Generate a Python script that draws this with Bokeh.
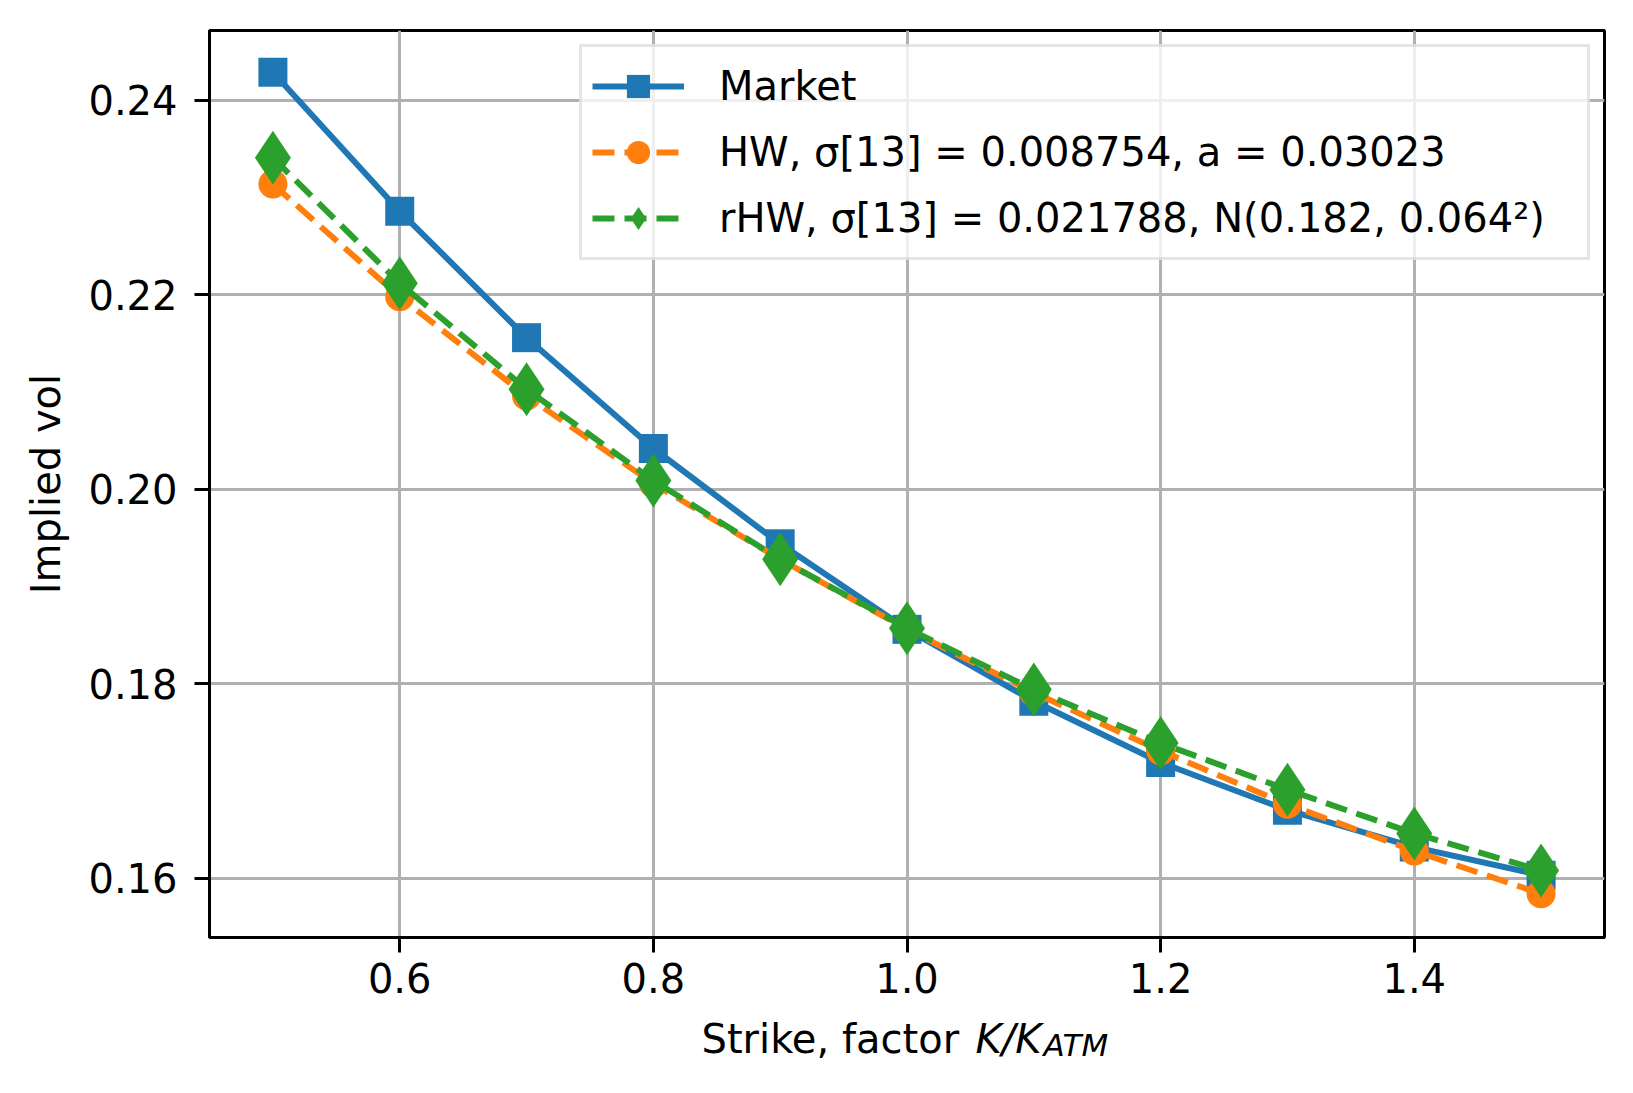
from bokeh.plotting import figure
from bokeh.layouts import column
from bokeh.models import Range1d, FixedTicker, NumeralTickFormatter, Legend, LegendItem
from bokeh.core.properties import value
from bokeh.embed import file_html
from bokeh.resources import INLINE

# ---- data ----
strike = [0.5, 0.6, 0.7, 0.8, 0.9, 1.0, 1.1, 1.2, 1.3, 1.4, 1.5]
market = [0.2429, 0.2286, 0.2156, 0.2042, 0.1944, 0.1856, 0.1782, 0.1719, 0.1670, 0.1632, 0.1603]
hw     = [0.2314, 0.2198, 0.2096, 0.2006, 0.1928, 0.1856, 0.1791, 0.1731, 0.1676, 0.1628, 0.1584]
rhw    = [0.2341, 0.2212, 0.2103, 0.2009, 0.1928, 0.1857, 0.1794, 0.1739, 0.1691, 0.1646, 0.1608]

x_ticks = [0.6, 0.8, 1.0, 1.2, 1.4]
y_ticks = [0.16, 0.18, 0.20, 0.22, 0.24]
series_labels = [
    "Market",
    "HW, σ[13] = 0.008754, a = 0.03023",
    "rHW, σ[13] = 0.021788, N(0.182, 0.064²)",
]
y_label = "Implied vol"
x_label_parts = ["Strike, factor", "K/K", "ATM"]

FONT = "DejaVu Sans"
FS = "40px"
C_BLUE, C_ORANGE, C_GREEN = "#1f77b4", "#ff7f0e", "#2ca02c"

W = 1617
H_MAIN = 1012
H_LAB = 65
FRAME_L, FRAME_R = 209, 1604   # page pixels of the plot frame edges

p = figure(width=W, height=H_MAIN, output_backend="svg", toolbar_location=None,
           x_range=Range1d(0.45, 1.55), y_range=Range1d(0.1539, 0.2472),
           min_border_left=FRAME_L, min_border_right=W - FRAME_R, min_border_top=30,
           min_border_bottom=H_MAIN - 937)
p.background_fill_color = "white"
p.border_fill_color = "white"
p.outline_line_color = "black"
p.outline_line_width = 3

# grid
p.xgrid.ticker = FixedTicker(ticks=x_ticks)
p.ygrid.ticker = FixedTicker(ticks=y_ticks)
p.grid.grid_line_color = "#b0b0b0"
p.grid.grid_line_width = 3

# axes
p.xaxis.ticker = FixedTicker(ticks=x_ticks)
p.yaxis.ticker = FixedTicker(ticks=y_ticks)
p.xaxis.formatter = NumeralTickFormatter(format="0.0")
p.yaxis.formatter = NumeralTickFormatter(format="0.00")
for ax in (p.xaxis, p.yaxis):
    ax.axis_line_color = "black"
    ax.axis_line_width = 3
    ax.major_tick_line_color = "black"
    ax.major_tick_line_width = 3
    ax.major_tick_in = 0
    ax.major_tick_out = 15
    ax.minor_tick_line_color = None
    ax.major_label_text_font = FONT
    ax.major_label_text_font_size = FS
    ax.major_label_text_color = "black"
p.xaxis.major_label_standoff = 10
p.yaxis.major_label_standoff = 17
p.yaxis.axis_label = y_label
p.yaxis.axis_label_text_font = FONT
p.yaxis.axis_label_text_font_size = FS
p.yaxis.axis_label_text_font_style = "normal"
p.yaxis.axis_label_text_color = "black"
p.yaxis.axis_label_standoff = 16

# series
l1 = p.line(strike, market, line_color=C_BLUE, line_width=6)
s1 = p.scatter(strike, market, marker="square", size=29, fill_color=C_BLUE, line_color=None)
l2 = p.line(strike, hw, line_color=C_ORANGE, line_width=6, line_dash="22 10")
s2 = p.scatter(strike, hw, marker="circle", size=29, fill_color=C_ORANGE, line_color=None)
l3 = p.line(strike, rhw, line_color=C_GREEN, line_width=6, line_dash="22 10")
s3 = p.scatter(strike, rhw, marker="diamond", size=54, fill_color=C_GREEN, line_color=None)

legend = Legend(items=[
    LegendItem(label=series_labels[0], renderers=[l1, s1]),
    LegendItem(label=series_labels[1], renderers=[l2, s2]),
    LegendItem(label=series_labels[2], renderers=[l3, s3]),
], location="top_right")
legend.label_text_font = FONT
legend.label_text_font_size = FS
legend.label_text_color = "black"
legend.glyph_width = 92
legend.glyph_height = 58
legend.label_standoff = 35
legend.label_width = 858
legend.spacing = 8
legend.padding = 10
legend.margin = 14
legend.border_line_color = "#cccccc"
legend.border_line_width = 3
legend.background_fill_color = "white"
legend.background_fill_alpha = 0.8
p.add_layout(legend)

# x-axis label strip (italic K/K with subscript ATM); x in page pixels, y from strip top
lab = figure(width=W, height=H_LAB, output_backend="svg", toolbar_location=None, title=None,
             x_range=Range1d(FRAME_L, FRAME_R), y_range=Range1d(H_LAB, 0),
             x_axis_location=None, y_axis_location=None, min_border=0)
lab.grid.visible = False
lab.outline_line_color = None
lab.background_fill_color = "white"
lab.border_fill_color = "white"
lab.text(x=[701], y=[26], text=[x_label_parts[0]], text_font=value(FONT), text_font_size="40px",
         text_align="left", text_baseline="alphabetic", text_color="black")
lab.text(x=[975], y=[26], text=[x_label_parts[1]], text_font=value(FONT), text_font_size="40px",
         text_font_style="italic", text_align="left", text_baseline="alphabetic", text_color="black")
lab.text(x=[1043], y=[32], text=[x_label_parts[2]], text_font=value(FONT), text_font_size="31px",
         text_font_style="italic", text_align="left", text_baseline="alphabetic", text_color="black")

layout = column(p, lab, spacing=0)
open("out.html", "w").write(file_html(layout, INLINE))
